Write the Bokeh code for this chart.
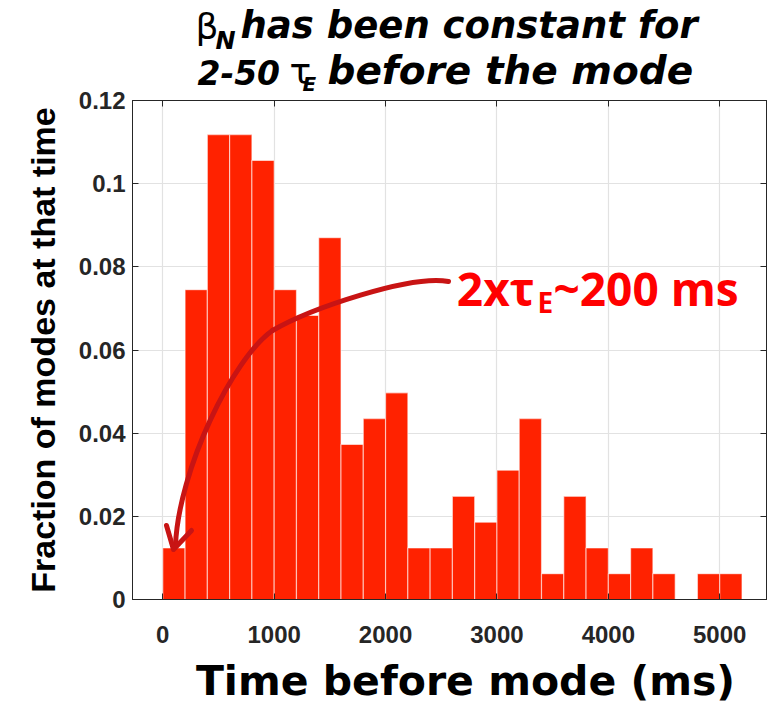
import math
from bokeh.plotting import figure
from bokeh.layouts import column
from bokeh.models import Range1d, FixedTicker, LinearAxis, Label
from bokeh.embed import file_html
from bokeh.resources import INLINE

# ---- data ----
bin_left = [0, 200, 400, 600, 800, 1000, 1200, 1400, 1600, 1800, 2000, 2200, 2400,
            2600, 2800, 3000, 3200, 3400, 3600, 3800, 4000, 4200, 4400, 4600, 4800, 5000]
bin_width = 200
fraction = [0.0124, 0.0745, 0.1118, 0.1118, 0.1056, 0.0745, 0.0683, 0.0870, 0.0373,
            0.0435, 0.0497, 0.0124, 0.0124, 0.0248, 0.0186, 0.0311, 0.0435, 0.0062,
            0.0248, 0.0124, 0.0062, 0.0124, 0.0062, 0.0, 0.0062, 0.0062]
x_ticks = [0, 1000, 2000, 3000, 4000, 5000]
y_ticks = [0, 0.02, 0.04, 0.06, 0.08, 0.1, 0.12]
y_tick_labels = ["0", "0.02", "0.04", "0.06", "0.08", "0.1", "0.12"]

X_MIN, X_MAX = -272, 5420
Y_MIN, Y_MAX = 0, 0.12

# page geometry (pixels)
W, H = 767, 707
TITLE_H = 91
XLAB_H = 50
MAIN_H = H - TITLE_H - XLAB_H
FL, FR, FT, FB = 132, 766, 100, 599  # frame of the main plot on the page

# half of (ascent - descent) per font, to place a middle-anchored label on a baseline
MID = {"DejaVu Sans": 0.346, "Open Sans": 0.388, "Liberation Sans": 0.347}


def px2x(px):
    return X_MIN + (px - FL) * (X_MAX - X_MIN) / (FR - FL)


def py2y(py):
    return Y_MIN + (FB - py) * (Y_MAX - Y_MIN) / (FB - FT)


def blank(height):
    # the column aligns this strip's frame with the main frame (page x FL..FR)
    f = figure(width=W, height=height, output_backend="svg", toolbar_location=None,
               title=None, x_range=Range1d(FL, FR), y_range=Range1d(0, height),
               x_axis_type=None, y_axis_type=None,
               min_border=0, min_border_left=FL, min_border_right=W - FR,
               min_border_top=0, min_border_bottom=0, outline_line_color=None,
               background_fill_color="white", border_fill_color="white")
    return f


def lab(fig, x, y, text, size, font="DejaVu Sans", style="bold italic", color="black",
        align="left"):
    fig.add_layout(Label(x=x, y=y, text=text, text_font=font,
                         text_font_style=style, text_font_size=f"{size}px",
                         text_color=color, text_align=align, text_baseline="middle"))


# ---- main plot ----
p = figure(width=W, height=MAIN_H, output_backend="svg", toolbar_location=None, title=None,
           x_range=Range1d(X_MIN, X_MAX), y_range=Range1d(Y_MIN, Y_MAX),
           min_border_left=FL, min_border_right=W - FR, min_border_top=FT - TITLE_H,
           min_border_bottom=(TITLE_H + MAIN_H) - FB,
           background_fill_color="white", border_fill_color="white",
           outline_line_color="#262626", outline_line_width=1)

right_edges = [l + bin_width for l in bin_left]
p.quad(left=bin_left, right=right_edges, bottom=0, top=fraction,
       fill_color="#FF2200", line_color="white", line_alpha=0.55, line_width=1.2)

AX = "#262626"
for ax in (p.xaxis[0], p.yaxis[0]):
    ax.axis_line_color = AX
    ax.major_tick_line_color = AX
    ax.major_tick_in = 6
    ax.major_tick_out = 0
    ax.minor_tick_line_color = None
    ax.major_label_text_font = "Liberation Sans"
    ax.major_label_text_font_style = "bold"
    ax.major_label_text_font_size = "24px"
    ax.major_label_text_color = AX

p.xaxis[0].ticker = FixedTicker(ticks=x_ticks)
p.xaxis[0].major_label_standoff = 26
p.yaxis[0].ticker = FixedTicker(ticks=y_ticks)
p.yaxis[0].major_label_overrides = {t: s for t, s in zip(y_ticks, y_tick_labels)}
p.yaxis[0].major_label_standoff = 7
p.yaxis[0].axis_label = "Fraction of modes at that time"
p.yaxis[0].axis_label_text_font = "Liberation Sans"
p.yaxis[0].axis_label_text_font_style = "bold"
p.yaxis[0].axis_label_text_font_size = "34px"
p.yaxis[0].axis_label_text_color = "black"
p.yaxis[0].axis_label_standoff = 14

top_ax = LinearAxis(ticker=FixedTicker(ticks=x_ticks), major_label_text_font_size="0px",
                    major_label_standoff=0, major_tick_in=6, major_tick_out=0,
                    minor_tick_line_color=None, axis_line_color=AX, major_tick_line_color=AX)
right_ax = LinearAxis(ticker=FixedTicker(ticks=y_ticks), major_label_text_font_size="0px",
                      major_label_standoff=0, major_tick_in=6, major_tick_out=0,
                      minor_tick_line_color=None, axis_line_color=AX, major_tick_line_color=AX)
p.add_layout(top_ax, "above")
p.add_layout(right_ax, "right")

p.xgrid.ticker = FixedTicker(ticks=x_ticks)
p.ygrid.ticker = FixedTicker(ticks=y_ticks)
p.grid.grid_line_color = "#e2e2e2"
p.grid.grid_line_width = 1.2

# annotation arrow (bezier curve + head)
ARROW = "#C81414"
p.bezier(x0=[px2x(448), px2x(272)], y0=[py2y(281), py2y(330)],
         x1=[px2x(272), px2x(175)], y1=[py2y(330), py2y(545)],
         cx0=[px2x(410), px2x(232)], cy0=[py2y(274), py2y(358)],
         cx1=[px2x(310), px2x(178)], cy1=[py2y(308), py2y(470)],
         line_color=ARROW, line_width=5, line_cap="round")
p.multi_line(xs=[[px2x(166), px2x(173), px2x(191)]],
             ys=[[py2y(525), py2y(549), py2y(530)]],
             line_color=ARROW, line_width=5, line_cap="round", line_join="round")


def pl(px, base, text, size, font="Open Sans", **kw):
    lab(p, px2x(px), py2y(base - MID[font] * size), text, size, font=font, **kw)


# annotation text
RED = "#FF0000"
pl(534, 305, "2x\u03c4", 46, style="bold", color=RED, align="right")
pl(537, 312, "E", 28, style="bold", color=RED)
pl(553, 305, "~200 ms", 46, style="bold", color=RED)

# ---- title (page pixel x, page baseline y) ----
t = blank(TITLE_H)


def tl(px, base, text, size, font="DejaVu Sans", **kw):
    lab(t, px, TITLE_H - (base - MID[font] * size), text, size, font=font, **kw)


tl(195, 38, "\u03b2", 36, style="normal")
tl(215, 49, "N", 24)
tl(240, 38, "has been constant for", 37)
tl(197, 83, "2-50", 33)
tl(289, 83, "\u03c4", 36, style="normal")
tl(302, 90, "E", 20)
tl(327, 83, "before the mode", 39)

# ---- x axis label ----
xl = blank(XLAB_H)
lab(xl, 465, H - (695 - MID["DejaVu Sans"] * 41), "Time before mode (ms)", 41,
    style="bold", align="center")

layout = column(t, p, xl, spacing=0)
open("out.html", "w").write(file_html(layout, INLINE))
